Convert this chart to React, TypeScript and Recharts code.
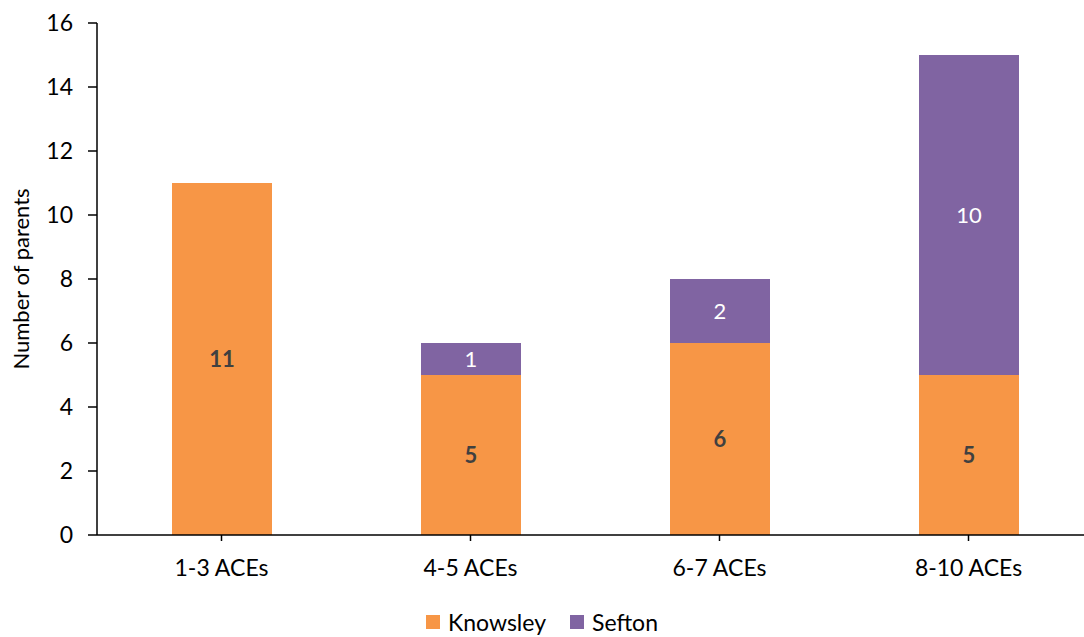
import { BarChart, Bar, XAxis, YAxis, Legend, LabelList } from 'recharts';

const categories = ['1-3 ACEs', '4-5 ACEs', '6-7 ACEs', '8-10 ACEs'];
const knowsley = [11, 5, 6, 5];
const sefton = [null, 1, 2, 10];
const yTicks = [0, 2, 4, 6, 8, 10, 12, 14, 16];

const ORANGE = '#F79646';
const PURPLE = '#8064A2';
const FONT = 'Lato, "Open Sans", sans-serif';

const data = categories.map((name, i) => ({ name, Knowsley: knowsley[i], Sefton: sefton[i] }));

const LegendContent = () => (
  <div style={{ display: 'flex', justifyContent: 'center', fontFamily: FONT, fontSize: 23, lineHeight: '26px', color: '#000' }}>
    {[
      { name: 'Knowsley', color: ORANGE },
      { name: 'Sefton', color: PURPLE },
    ].map((item, i) => (
      <div key={item.name} style={{ display: 'flex', alignItems: 'center', marginLeft: i ? 24 : 0 }}>
        <div style={{ width: 14, height: 14, background: item.color, marginRight: 8 }} />
        <span>{item.name}</span>
      </div>
    ))}
  </div>
);

export default function App() {
  return (
    <div style={{ position: 'absolute', left: 0, top: 0, width: 1084, height: 637, overflow: 'hidden', background: '#fff' }}>
      <BarChart width={1100} height={637} data={data} margin={{ top: 23, right: 7, bottom: 0, left: 0 }} barCategoryGap={0}>
        <XAxis
          dataKey="name"
          height={102}
          axisLine={{ stroke: '#000', strokeWidth: 1.5 }}
          tickLine={{ stroke: '#000', strokeWidth: 1.5 }}
          tickSize={6}
          tickMargin={19}
          tick={{ fill: '#000', fontSize: 23, fontFamily: FONT }}
          interval={0}
        />
        <YAxis
          width={97}
          domain={[0, 16]}
          ticks={yTicks}
          axisLine={{ stroke: '#000', strokeWidth: 1.5 }}
          tickLine={{ stroke: '#000', strokeWidth: 1.5 }}
          tickSize={9}
          tickMargin={15}
          tick={{ fill: '#000', fontSize: 23, fontFamily: FONT }}
          label={{
            value: 'Number of parents',
            angle: -90,
            position: 'insideLeft',
            offset: 21,
            style: { textAnchor: 'middle', fill: '#000', fontSize: 22, fontFamily: FONT },
          }}
        />
        <Legend verticalAlign="middle" align="center" layout="horizontal" content={<LegendContent />} wrapperStyle={{ top: 609, left: 0, width: 1084, height: 28 }} />
        <Bar dataKey="Knowsley" stackId="a" fill={ORANGE} barSize={100} isAnimationActive={false}>
          <LabelList dataKey="Knowsley" position="center" style={{ fill: '#404040', fontWeight: 700, fontSize: 22, fontFamily: FONT }} />
        </Bar>
        <Bar dataKey="Sefton" stackId="a" fill={PURPLE} barSize={100} isAnimationActive={false}>
          <LabelList dataKey="Sefton" position="center" style={{ fill: '#fff', fontSize: 22, fontFamily: FONT }} />
        </Bar>
      </BarChart>
    </div>
  );
}
